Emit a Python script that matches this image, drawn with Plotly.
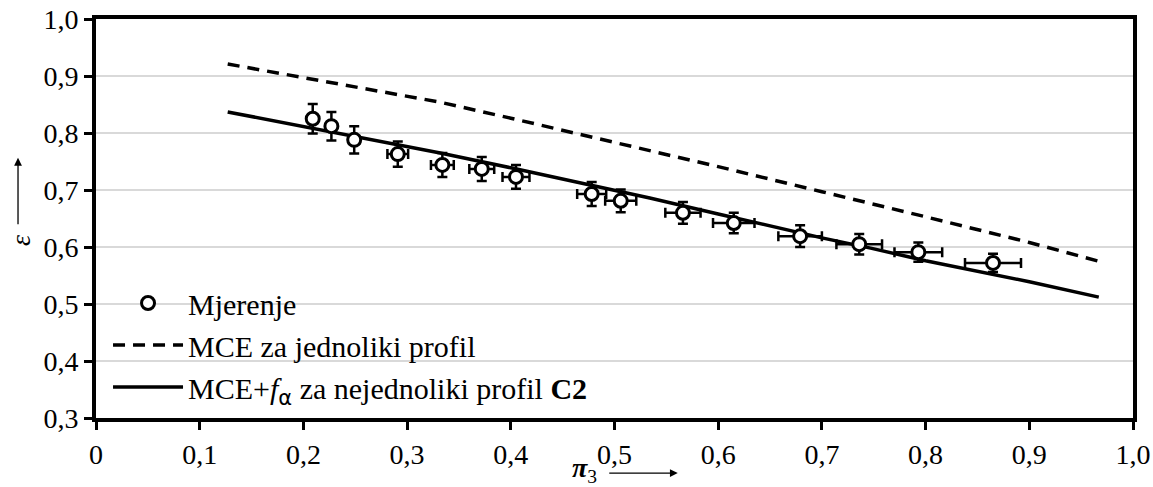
import plotly.graph_objects as go

# Measurements
meas_x = [0.209, 0.227, 0.249, 0.291, 0.334, 0.372, 0.405, 0.478, 0.506, 0.566, 0.615, 0.679, 0.736, 0.793, 0.865]
meas_y = [0.825, 0.812, 0.788, 0.763, 0.744, 0.737, 0.723, 0.693, 0.681, 0.660, 0.642, 0.619, 0.605, 0.591, 0.572]
meas_ex = [0.004, 0.004, 0.005, 0.010, 0.011, 0.012, 0.013, 0.014, 0.015, 0.017, 0.020, 0.021, 0.022, 0.023, 0.027]
meas_ey = [0.026, 0.025, 0.024, 0.022, 0.021, 0.021, 0.021, 0.021, 0.020, 0.019, 0.018, 0.019, 0.018, 0.017, 0.016]

# MCE uniform profile (dashed)
mce_x = [0.127, 0.2, 0.3, 0.332, 0.4, 0.5, 0.534, 0.6, 0.7, 0.747, 0.8, 0.9, 0.967]
mce_y = [0.921, 0.897, 0.864, 0.854, 0.826, 0.784, 0.770, 0.741, 0.697, 0.677, 0.653, 0.608, 0.575]

# MCE + f_alpha non-uniform profile C2 (solid)
c2_x = [0.127, 0.2, 0.3, 0.332, 0.4, 0.5, 0.534, 0.6, 0.7, 0.747, 0.8, 0.9, 0.967]
c2_y = [0.837, 0.811, 0.776, 0.765, 0.739, 0.699, 0.686, 0.658, 0.616, 0.598, 0.576, 0.539, 0.512]

x_ticks = [0, 0.1, 0.2, 0.3, 0.4, 0.5, 0.6, 0.7, 0.8, 0.9, 1.0]
x_ticktext = ["0", "0,1", "0,2", "0,3", "0,4", "0,5", "0,6", "0,7", "0,8", "0,9", "1,0"]
y_ticks = [0.3, 0.4, 0.5, 0.6, 0.7, 0.8, 0.9, 1.0]
y_ticktext = ["0,3", "0,4", "0,5", "0,6", "0,7", "0,8", "0,9", "1,0"]

FONT = "Liberation Serif"

fig = go.Figure()

fig.add_trace(go.Scatter(
    x=mce_x, y=mce_y, mode="lines",
    line=dict(color="black", width=3.5, dash="12px,8px"),
    name="MCE za jednoliki profil", legendrank=2, legendgroup="b",
))
fig.add_trace(go.Scatter(
    x=c2_x, y=c2_y, mode="lines",
    line=dict(color="black", width=3.5),
    name="MCE+<i>f</i><sub><span style='font-family:DejaVu Sans'>α</span></sub> za nejednoliki profil <b>C2</b>",
    legendrank=3, legendgroup="c",
))
fig.add_trace(go.Scatter(
    x=meas_x, y=meas_y, mode="markers",
    marker=dict(symbol="circle", size=13, color="white", line=dict(color="black", width=3)),
    error_x=dict(type="data", array=meas_ex, color="black", thickness=2.5, width=5),
    error_y=dict(type="data", array=meas_ey, color="black", thickness=2.5, width=5),
    name="Mjerenje", legendrank=1, legendgroup="a",
))

fig.update_layout(
    width=1153, height=487, autosize=False,
    margin=dict(l=96, r=20, t=19, b=69, pad=0),
    paper_bgcolor="white", plot_bgcolor="white",
    font=dict(family=FONT, size=28, color="black"),
    showlegend=True,
    legend=dict(
        x=0.0116, y=0.0125, xanchor="left", yanchor="bottom",
        bgcolor="rgba(0,0,0,0)", font=dict(family=FONT, size=30),
        tracegroupgap=0, itemwidth=70,
    ),
    xaxis=dict(
        range=[0, 1], tickvals=x_ticks, ticktext=x_ticktext,
        showgrid=False, zeroline=False, automargin=False, ticklabeloverflow="allow",
        showline=True, linecolor="black", linewidth=4, mirror=True,
        ticks="outside", ticklen=8, tickwidth=3, tickcolor="black",
    ),
    yaxis=dict(
        range=[0.3, 1.0], tickvals=y_ticks, ticktext=y_ticktext,
        showgrid=True, gridcolor="#d9d9d9", gridwidth=1.5, zeroline=False,
        automargin=False, ticklabeloverflow="allow",
        showline=True, linecolor="black", linewidth=4, mirror=True,
        ticks="outside", ticklen=8, tickwidth=3, tickcolor="black",
    ),
    annotations=[
        dict(text="<b><i>π</i></b><sub>3</sub>", xref="paper", yref="paper",
             x=0.4706, y=-0.130, xanchor="center", yanchor="middle",
             showarrow=False, font=dict(family=FONT, size=28)),
        dict(text="", xref="paper", yref="paper", x=0.561, y=-0.138,
             ax=-70, ay=0, showarrow=True, arrowhead=2, arrowsize=1.2,
             arrowwidth=1.3, arrowcolor="black"),
        dict(text="<i>ε</i>", xref="paper", yref="paper", textangle=-90,
             x=-0.0733, y=0.446, xanchor="center", yanchor="middle",
             showarrow=False, font=dict(family=FONT, size=28)),
        dict(text="", xref="paper", yref="paper", x=-0.0752, y=0.652,
             ax=0, ay=68, showarrow=True, arrowhead=2, arrowsize=1.2,
             arrowwidth=1.3, arrowcolor="black"),
    ],
)

fig.write_html(
    "out.html",
    config={"displayModeBar": False},
    post_script="document.body.style.margin='0px';document.body.style.overflow='hidden';",
)
